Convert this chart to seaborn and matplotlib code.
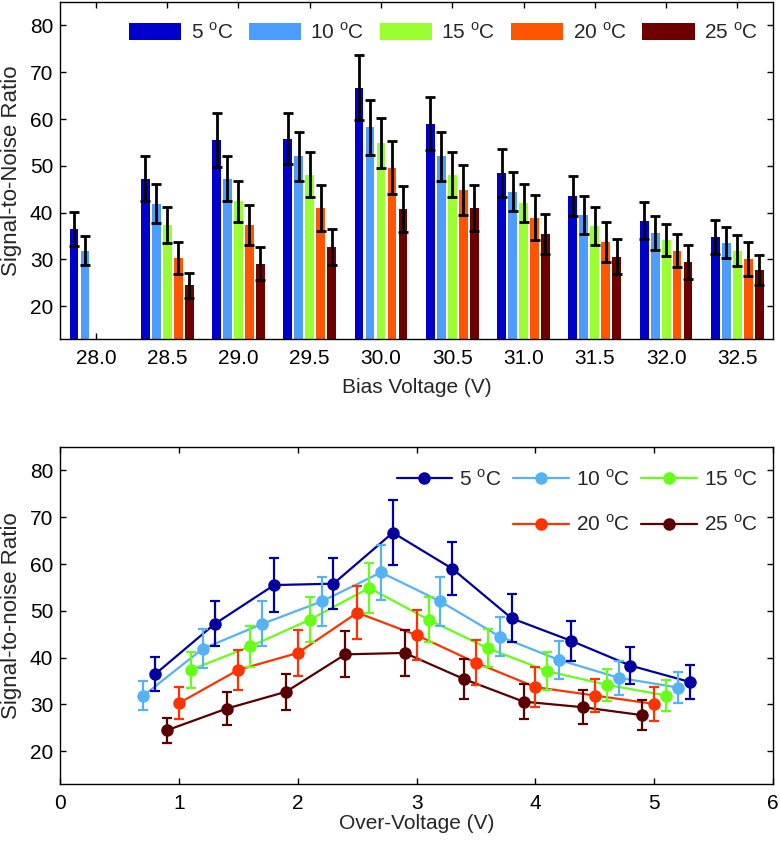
import pandas as pd
import seaborn as sns
import matplotlib.pyplot as plt
from matplotlib.lines import Line2D

# data
bias_labels = ['28.0', '28.5', '29.0', '29.5', '30.0', '30.5', '31.0', '31.5', '32.0', '32.5']
bias_volts = [28.0, 28.5, 29.0, 29.5, 30.0, 30.5, 31.0, 31.5, 32.0, 32.5]
temp_labels = ['5 $^\\mathrm{o}$C', '10 $^\\mathrm{o}$C', '15 $^\\mathrm{o}$C',
               '20 $^\\mathrm{o}$C', '25 $^\\mathrm{o}$C']
# breakdown voltage per temperature (over-voltage = bias - breakdown)
breakdown = [27.2, 27.3, 27.4, 27.5, 27.6]

nan = float('nan')
snr_5 = [36.5, 47.2, 55.5, 55.8, 66.7, 59.0, 48.4, 43.6, 38.3, 34.8]
err_5 = [3.6, 4.8, 5.7, 5.4, 6.9, 5.7, 5.1, 4.3, 4.0, 3.6]
snr_10 = [31.9, 41.9, 47.2, 52.0, 58.2, 52.0, 44.5, 39.5, 35.7, 33.6]
err_10 = [3.0, 4.2, 4.8, 5.3, 5.8, 5.3, 4.2, 4.0, 3.6, 3.3]
snr_15 = [nan, 37.4, 42.4, 48.1, 54.9, 48.1, 42.0, 37.1, 34.2, 31.9]
err_15 = [nan, 3.8, 4.3, 4.8, 5.3, 4.8, 4.1, 4.0, 3.4, 3.3]
snr_20 = [nan, 30.3, 37.4, 41.0, 49.6, 44.8, 38.9, 33.7, 31.9, 30.1]
err_20 = [nan, 3.4, 4.3, 4.9, 5.6, 5.4, 4.8, 4.2, 3.6, 3.6]
snr_25 = [nan, 24.5, 29.1, 32.7, 40.7, 41.0, 35.4, 30.6, 29.4, 27.7]
err_25 = [nan, 2.7, 3.6, 3.9, 4.9, 4.9, 4.3, 3.7, 3.6, 3.2]

bar_colors = ['#0000CD', '#4D9DFF', '#99FF33', '#FF5500', '#6E0000']
line_colors = ['#0000A0', '#55B2F5', '#66FF1A', '#FF3300', '#5A0000']

all_snr = [snr_5, snr_10, snr_15, snr_20, snr_25]
all_err = [err_5, err_10, err_15, err_20, err_25]

# long form table
rows = []
for t, vbd, snr, err in zip(temp_labels, breakdown, all_snr, all_err):
    for b, bv, s, e in zip(bias_labels, bias_volts, snr, err):
        rows.append({'bias': b, 'ov': round(bv - vbd, 2), 'temp': t, 'snr': s, 'err': e})
df = pd.DataFrame(rows).dropna()

sns.set_style('ticks')
plt.rcParams['font.family'] = ['Liberation Sans', 'DejaVu Sans']
plt.rcParams['mathtext.fontset'] = 'custom'
plt.rcParams['mathtext.rm'] = 'Liberation Sans'
plt.rcParams['xtick.direction'] = 'in'
plt.rcParams['ytick.direction'] = 'in'
plt.rcParams['xtick.top'] = True
plt.rcParams['ytick.right'] = True
plt.rcParams['axes.linewidth'] = 1.0
plt.rcParams['axes.edgecolor'] = 'black'

FS = 15

fig = plt.figure(figsize=(7.8, 8.42), dpi=100)
ax1 = fig.add_axes([0.0773, 0.5974, 0.9137, 0.4002])
ax2 = fig.add_axes([0.0773, 0.0689, 0.9137, 0.4002])

# top: grouped bars
sns.barplot(data=df, x='bias', y='snr', hue='temp', order=bias_labels, hue_order=temp_labels,
            palette=bar_colors, width=0.77, gap=0.19, errorbar=None, saturation=1,
            linewidth=0, ax=ax1)

for cont, t in zip(ax1.containers, temp_labels):
    sub = df[df['temp'] == t].set_index('bias')
    xs, ys, es = [], [], []
    for bar in cont:
        xc = bar.get_x() + bar.get_width() / 2
        b = bias_labels[int(round(xc))]
        xs.append(xc)
        ys.append(sub.loc[b, 'snr'])
        es.append(sub.loc[b, 'err'])
    ax1.errorbar(xs, ys, yerr=es, fmt='none', ecolor='black', elinewidth=2,
                 capsize=3.8, capthick=2, zorder=5)

ax1.set_xlim(-0.5, 9.5)
ax1.set_ylim(13, 85)
ax1.set_yticks([20, 30, 40, 50, 60, 70, 80])
ax1.tick_params(axis='both', labelsize=FS, length=4, width=1, colors='black', pad=5)
ax1.tick_params(axis='x', pad=7)
ax1.set_xlabel('Bias Voltage (V)', fontsize=FS, labelpad=7.5)
ax1.set_ylabel('Signal-to-Noise Ratio', fontsize=16, labelpad=6)
for s in ax1.spines.values():
    s.set_visible(True)

h, l = ax1.get_legend_handles_labels()
ax1.legend(h, l, ncol=5, loc='upper right', bbox_to_anchor=(0.979, 0.94), frameon=False,
           fontsize=FS, handlelength=2.5, handleheight=0.85, handletextpad=0.45,
           columnspacing=0.75, borderpad=0, borderaxespad=0)

# bottom: snr vs over-voltage
sns.lineplot(data=df, x='ov', y='snr', hue='temp', hue_order=temp_labels, palette=line_colors,
             marker='o', markersize=9, markeredgewidth=0, linewidth=1.6, errorbar=None,
             legend=False, ax=ax2)
for t, c in zip(temp_labels, line_colors):
    sub = df[df['temp'] == t]
    ax2.errorbar(sub['ov'], sub['snr'], yerr=sub['err'], fmt='none', ecolor=c,
                 elinewidth=1.6, capsize=3.5, capthick=1.6)

ax2.set_xlim(0, 6)
ax2.set_ylim(13, 85)
ax2.set_xticks([0, 1, 2, 3, 4, 5, 6])
ax2.set_yticks([20, 30, 40, 50, 60, 70, 80])
ax2.tick_params(axis='both', labelsize=FS, length=4, width=1, colors='black', pad=5)
ax2.tick_params(axis='x', pad=7)
ax2.set_xlabel('Over-Voltage (V)', fontsize=FS, labelpad=1)
ax2.set_ylabel('Signal-to-noise Ratio', fontsize=16, labelpad=6)
for s in ax2.spines.values():
    s.set_visible(True)

handles = [Line2D([], [], color=c, marker='o', markersize=9, markeredgewidth=0, linewidth=1.6)
           for c in line_colors]
leg_kw = dict(loc='upper right', frameon=False, fontsize=FS, handlelength=2.65,
              handletextpad=0.35, columnspacing=0.55, borderpad=0, borderaxespad=0)
leg1 = ax2.legend(handles[:3], temp_labels[:3], ncol=3, bbox_to_anchor=(0.979, 0.936), **leg_kw)
ax2.add_artist(leg1)
ax2.legend(handles[3:], temp_labels[3:], ncol=2, bbox_to_anchor=(0.979, 0.80), **leg_kw)

fig.savefig('out.png', dpi=100)
